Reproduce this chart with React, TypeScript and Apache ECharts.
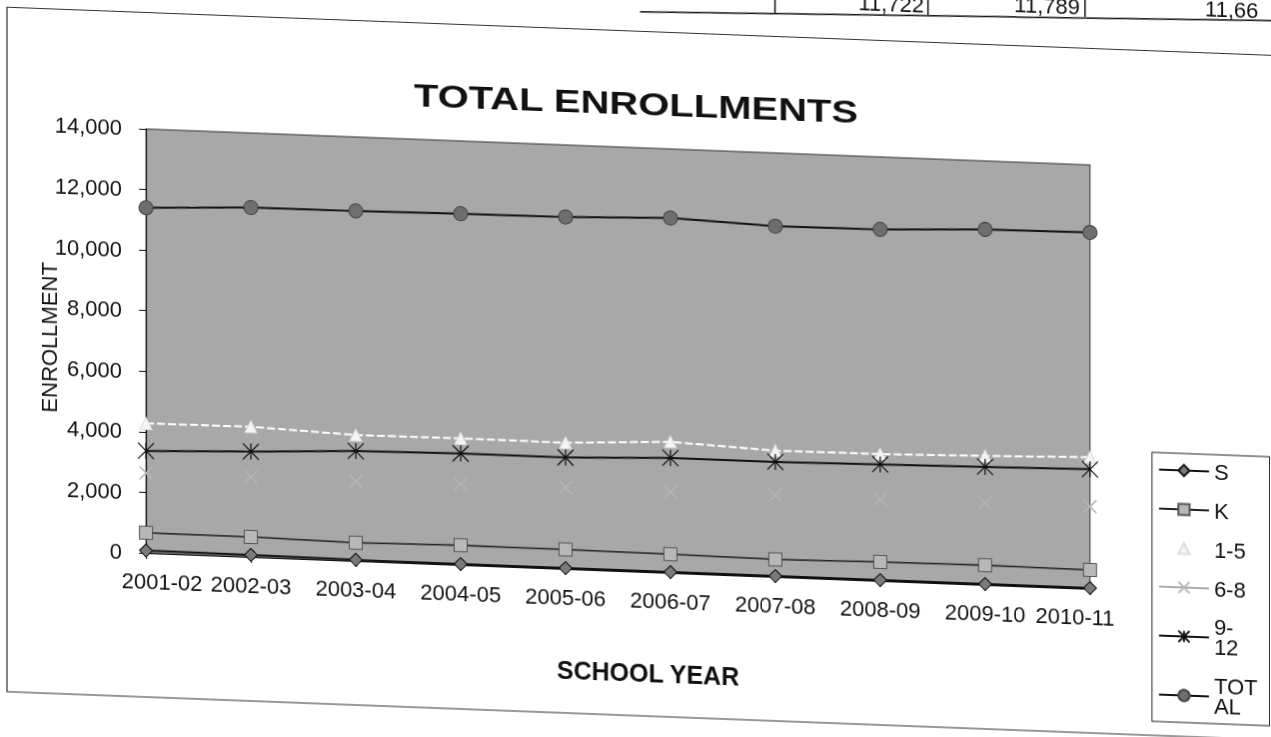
import React, { useEffect, useRef } from "react";
import * as echarts from "echarts";

const years = ["2001-02", "2002-03", "2003-04", "2004-05", "2005-06", "2006-07", "2007-08", "2008-09", "2009-10", "2010-11"];
const sVals = [80, 70, 40, 30, 30, 30, 30, 30, 30, 30];
const kVals = [670, 660, 600, 650, 640, 620, 580, 630, 650, 630];
const g15Vals = [4280, 4300, 4160, 4180, 4170, 4330, 4170, 4190, 4260, 4350];
const g68Vals = [2640, 2650, 2630, 2660, 2690, 2680, 2700, 2690, 2710, 2720];
const g912Vals = [3370, 3480, 3630, 3680, 3680, 3800, 3800, 3850, 3900, 3950];
const totalVals = [11400, 11540, 11560, 11600, 11620, 11720, 11580, 11610, 11740, 11770];
const yTicks = { min: 0, max: 14000, interval: 2000 };
const tableCells = ["11,722", "11,789", "11,66"];

const FONT = "'Liberation Sans', Arial, sans-serif";
const OY = 50;

export default function App() {
  const ref = useRef<HTMLDivElement>(null);
  useEffect(() => {
    if (!ref.current) return;
    const chart = echarts.init(ref.current, null, { renderer: "svg" });
    const asterisk = "path://M0,0L10,10M10,0L0,10M5,0L5,10";
    const cross = "path://M0,0L10,10M10,0L0,10";
    const mk = (name: string, data: number[], o: any) => ({
      name,
      type: "line",
      data,
      ...o,
    });
    const last = years.length - 1;
    const xData = years.map((y, i) =>
      i === 0
        ? { value: y, textStyle: { padding: [0, 0, 0, 32] } }
        : i === last
        ? { value: y, textStyle: { padding: [0, 30, 0, 0] } }
        : y
    );
    chart.setOption({
      animation: false,
      backgroundColor: "transparent",
      textStyle: { fontFamily: FONT },
      grid: { left: 146, top: 129 + OY, width: 944, height: 424, show: true, backgroundColor: "#a8a8a8", borderColor: "#333", borderWidth: 1 },
      legend: {
        orient: "vertical",
        left: 1152,
        top: 414 + OY,
        itemWidth: 50,
        itemHeight: 14,
        itemGap: 17,
        padding: [6, 12, 6, 6],
        borderColor: "#222",
        borderWidth: 1,
        backgroundColor: "#fff",
        textStyle: { fontSize: 22, lineHeight: 20, color: "#111", fontFamily: FONT },
        formatter: (n: string) => (n === "9-12" ? "9-\n12" : n === "TOTAL" ? "TOT\nAL" : n),
      },
      xAxis: {
        type: "category",
        data: xData,
        boundaryGap: false,
        axisLine: { lineStyle: { color: "#111", width: 1 } },
        axisTick: { show: true, length: 6, lineStyle: { color: "#111" } },
        axisLabel: { fontSize: 22, color: "#111", margin: 17, fontFamily: FONT, interval: 0 },
        name: "SCHOOL YEAR",
        nameLocation: "middle",
        nameGap: 88,
        nameMoveOverlap: false,
        nameTextStyle: { fontSize: 25, fontWeight: "bold", color: "#111", fontFamily: FONT, padding: [0, 0, 0, 60] },
      },
      yAxis: {
        type: "value",
        ...yTicks,
        axisLine: { show: true, lineStyle: { color: "#111", width: 1 } },
        axisTick: { show: true, length: 7, lineStyle: { color: "#111" } },
        splitLine: { show: false },
        axisLabel: { fontSize: 22, color: "#111", margin: 24, fontFamily: FONT, formatter: (v: number) => v.toLocaleString("en-US") },
        name: "ENROLLMENT",
        nameLocation: "middle",
        nameGap: 86,
        nameMoveOverlap: false,
        nameTextStyle: { fontSize: 22, color: "#111", fontFamily: FONT },
      },
      series: [
        mk("S", sVals, { symbol: "diamond", symbolSize: 13, lineStyle: { color: "#111", width: 2 }, itemStyle: { color: "#7a7a7a", borderColor: "#111", borderWidth: 1 } }),
        mk("K", kVals, { symbol: "rect", symbolSize: 13, lineStyle: { color: "#222", width: 1.5 }, itemStyle: { color: "#b8b8b8", borderColor: "#555", borderWidth: 1 } }),
        mk("1-5", g15Vals, { symbol: "triangle", symbolSize: 12, lineStyle: { color: "#ffffff", width: 2, type: [8, 3] }, itemStyle: { color: "#f4f4f4", borderColor: "#ddd", borderWidth: 1 } }),
        mk("6-8", g68Vals, { symbol: cross, symbolSize: 13, lineStyle: { color: "#ababab", width: 1.2 }, itemStyle: { color: "#b6b6b6", borderColor: "#b6b6b6", borderWidth: 1.5 } }),
        mk("9-12", g912Vals, { symbol: asterisk, symbolSize: 16, lineStyle: { color: "#111", width: 2 }, itemStyle: { color: "#111", borderColor: "#111", borderWidth: 1.2 } }),
        mk("TOTAL", totalVals, { symbol: "circle", symbolSize: 14, lineStyle: { color: "#111", width: 2 }, itemStyle: { color: "#6e6e6e", borderColor: "#444", borderWidth: 1 } }),
      ],
      graphic: [
        { type: "rect", shape: { x: 7, y: 12.5 + OY, width: 1290, height: 684.5 }, style: { fill: "none", stroke: "#333", lineWidth: 1.2 }, silent: true, z: -1 },
        { type: "text", x: 636, y: 85 + OY, scaleX: 1.25, style: { text: "TOTAL ENROLLMENTS", font: `bold 32px ${FONT}`, fill: "#111", align: "center", verticalAlign: "middle" } },
        { type: "line", shape: { x1: 640, y1: -7 + OY, x2: 1300, y2: -23 + OY }, style: { stroke: "#111", lineWidth: 1.5 } },
        { type: "line", shape: { x1: 775, y1: -40 + OY, x2: 775, y2: -11 + OY }, style: { stroke: "#111", lineWidth: 1.5 } },
        { type: "line", shape: { x1: 928, y1: -40 + OY, x2: 928, y2: -15 + OY }, style: { stroke: "#111", lineWidth: 1.5 } },
        { type: "line", shape: { x1: 1085, y1: -40 + OY, x2: 1085, y2: -19 + OY }, style: { stroke: "#111", lineWidth: 1.5 } },
        { type: "text", x: 924, y: -24 + OY, style: { text: tableCells[0], font: `22px ${FONT}`, fill: "#111", align: "right", verticalAlign: "middle" } },
        { type: "text", x: 1080, y: -28 + OY, style: { text: tableCells[1], font: `22px ${FONT}`, fill: "#111", align: "right", verticalAlign: "middle" } },
        { type: "text", x: 1205, y: -31 + OY, style: { text: tableCells[2], font: `22px ${FONT}`, fill: "#111", align: "left", verticalAlign: "middle" } },
      ],
    });
    return () => chart.dispose();
  }, []);
  return (
    <div
      ref={ref}
      style={{
        position: "fixed",
        left: 0,
        top: -OY,
        width: 1300,
        height: 800,
        transform: "skewY(2.18deg)",
        transformOrigin: "146px 0px",
      }}
    />
  );
}
